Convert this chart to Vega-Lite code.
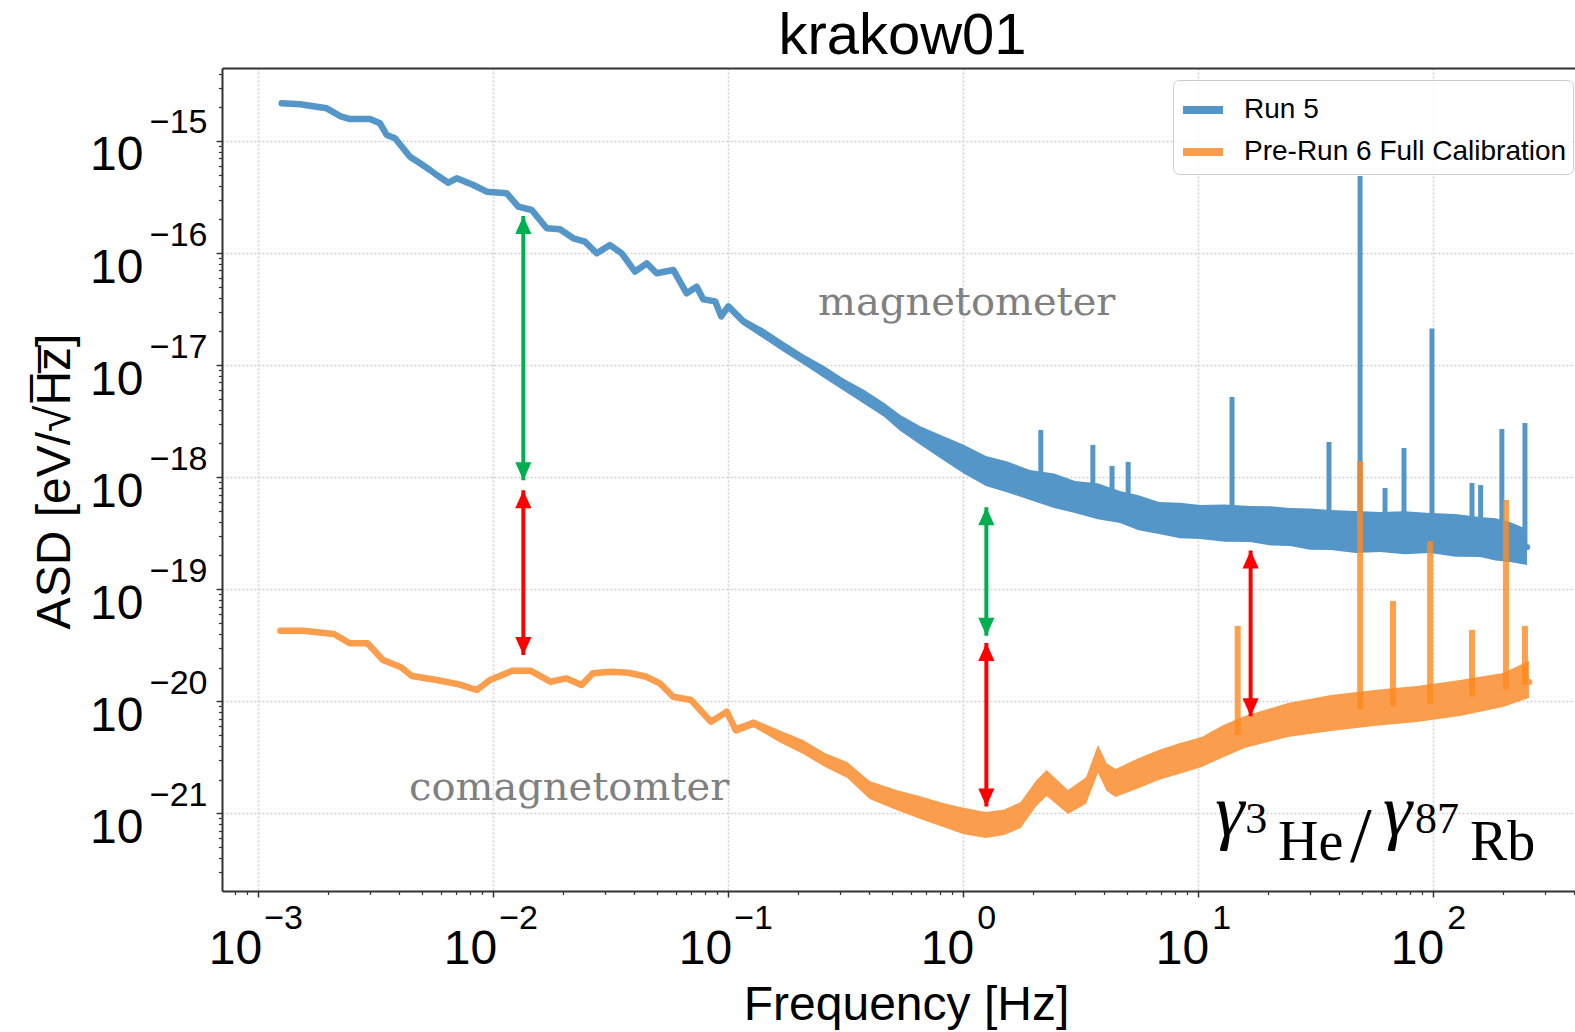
{
  "$schema": "https://vega.github.io/schema/vega-lite/v6.json",
  "width": 1353,
  "height": 823,
  "autosize": {"type": "none"},
  "padding": {"left": 222, "top": 68, "right": 0, "bottom": 141},
  "background": "white",
  "datasets": {
    "curves": [
      {"s": "Run 5", "f": 0.001265, "mid": 2.170e-15},
      {"s": "Run 5", "f": 0.001514, "mid": 2.126e-15},
      {"s": "Run 5", "f": 0.001966, "mid": 1.957e-15},
      {"s": "Run 5", "f": 0.002240, "mid": 1.671e-15},
      {"s": "Run 5", "f": 0.002470, "mid": 1.571e-15},
      {"s": "Run 5", "f": 0.003005, "mid": 1.571e-15},
      {"s": "Run 5", "f": 0.003314, "mid": 1.439e-15},
      {"s": "Run 5", "f": 0.003539, "mid": 1.131e-15},
      {"s": "Run 5", "f": 0.003840, "mid": 1.057e-15},
      {"s": "Run 5", "f": 0.004446, "mid": 7.244e-16},
      {"s": "Run 5", "f": 0.004905, "mid": 6.324e-16},
      {"s": "Run 5", "f": 0.005408, "mid": 5.510e-16},
      {"s": "Run 5", "f": 0.005778, "mid": 4.972e-16},
      {"s": "Run 5", "f": 0.006474, "mid": 4.244e-16},
      {"s": "Run 5", "f": 0.007026, "mid": 4.646e-16},
      {"s": "Run 5", "f": 0.008270, "mid": 4.048e-16},
      {"s": "Run 5", "f": 0.009430, "mid": 3.527e-16},
      {"s": "Run 5", "f": 0.01147, "mid": 3.413e-16},
      {"s": "Run 5", "f": 0.01285, "mid": 2.593e-16},
      {"s": "Run 5", "f": 0.01466, "mid": 2.422e-16},
      {"s": "Run 5", "f": 0.01698, "mid": 1.663e-16},
      {"s": "Run 5", "f": 0.01933, "mid": 1.629e-16},
      {"s": "Run 5", "f": 0.02203, "mid": 1.354e-16},
      {"s": "Run 5", "f": 0.02471, "mid": 1.263e-16},
      {"s": "Run 5", "f": 0.02771, "mid": 9.95e-17},
      {"s": "Run 5", "f": 0.03155, "mid": 1.179e-16},
      {"s": "Run 5", "f": 0.03539, "mid": 9.95e-17},
      {"s": "Run 5", "f": 0.04031, "mid": 6.818e-17},
      {"s": "Run 5", "f": 0.04521, "mid": 8.100e-17},
      {"s": "Run 5", "f": 0.04987, "mid": 6.598e-17},
      {"s": "Run 5", "f": 0.05867, "mid": 7.060e-17},
      {"s": "Run 5", "f": 0.06690, "mid": 4.373e-17},
      {"s": "Run 5", "f": 0.07380, "mid": 5.008e-17},
      {"s": "Run 5", "f": 0.07866, "mid": 3.866e-17, "lo": 3.72e-17, "hi": 4.02e-17},
      {"s": "Run 5", "f": 0.08847, "mid": 3.703e-17, "lo": 3.48e-17, "hi": 3.94e-17},
      {"s": "Run 5", "f": 0.09382, "mid": 2.720e-17, "lo": 2.556e-17, "hi": 2.894e-17},
      {"s": "Run 5", "f": 0.1006, "mid": 3.342e-17, "lo": 3.141e-17, "hi": 3.556e-17},
      {"s": "Run 5", "f": 0.1165, "mid": 2.455e-17, "lo": 2.273e-17, "hi": 2.651e-17},
      {"s": "Run 5", "f": 0.1419, "mid": 1.914e-17, "lo": 1.727e-17, "hi": 2.121e-17},
      {"s": "Run 5", "f": 0.1727, "mid": 1.462e-17, "lo": 1.319e-17, "hi": 1.620e-17},
      {"s": "Run 5", "f": 0.2104, "mid": 1.120e-17, "lo": 1.011e-17, "hi": 1.241e-17},
      {"s": "Run 5", "f": 0.2562, "mid": 8.731e-18, "lo": 7.727e-18, "hi": 9.866e-18},
      {"s": "Run 5", "f": 0.3119, "mid": 6.686e-18, "lo": 5.917e-18, "hi": 7.555e-18},
      {"s": "Run 5", "f": 0.3799, "mid": 5.213e-18, "lo": 4.513e-18, "hi": 6.021e-18},
      {"s": "Run 5", "f": 0.4625, "mid": 3.991e-18, "lo": 3.455e-18, "hi": 4.610e-18},
      {"s": "Run 5", "f": 0.5411, "mid": 3.043e-18, "lo": 2.600e-18, "hi": 3.600e-18},
      {"s": "Run 5", "f": 0.6600, "mid": 2.350e-18, "lo": 1.950e-18, "hi": 2.850e-18},
      {"s": "Run 5", "f": 0.8245, "mid": 1.820e-18, "lo": 1.422e-18, "hi": 2.330e-18},
      {"s": "Run 5", "f": 1.010, "mid": 1.420e-18, "lo": 1.080e-18, "hi": 1.950e-18},
      {"s": "Run 5", "f": 1.256, "mid": 1.134e-18, "lo": 8.332e-19, "hi": 1.543e-18},
      {"s": "Run 5", "f": 1.550, "mid": 9.800e-19, "lo": 7.300e-19, "hi": 1.380e-18},
      {"s": "Run 5", "f": 1.933, "mid": 8.511e-19, "lo": 6.253e-19, "hi": 1.158e-18},
      {"s": "Run 5", "f": 2.450, "mid": 7.500e-19, "lo": 5.300e-19, "hi": 1.080e-18},
      {"s": "Run 5", "f": 3.006, "mid": 6.651e-19, "lo": 4.788e-19, "hi": 9.238e-19},
      {"s": "Run 5", "f": 3.750, "mid": 6.000e-19, "lo": 4.200e-19, "hi": 8.800e-19},
      {"s": "Run 5", "f": 4.670, "mid": 5.416e-19, "lo": 3.899e-19, "hi": 7.523e-19},
      {"s": "Run 5", "f": 5.600, "mid": 4.800e-19, "lo": 3.350e-19, "hi": 6.900e-19},
      {"s": "Run 5", "f": 6.844, "mid": 4.318e-19, "lo": 3.109e-19, "hi": 5.998e-19},
      {"s": "Run 5", "f": 8.400, "mid": 4.100e-19, "lo": 2.850e-19, "hi": 5.900e-19},
      {"s": "Run 5", "f": 10.23, "mid": 3.978e-19, "lo": 2.805e-19, "hi": 5.641e-19},
      {"s": "Run 5", "f": 13.00, "mid": 3.900e-19, "lo": 2.650e-19, "hi": 5.700e-19},
      {"s": "Run 5", "f": 16.70, "mid": 3.818e-19, "lo": 2.639e-19, "hi": 5.525e-19},
      {"s": "Run 5", "f": 20.50, "mid": 3.700e-19, "lo": 2.450e-19, "hi": 5.500e-19},
      {"s": "Run 5", "f": 24.71, "mid": 3.590e-19, "lo": 2.431e-19, "hi": 5.302e-19},
      {"s": "Run 5", "f": 30.00, "mid": 3.480e-19, "lo": 2.250e-19, "hi": 5.250e-19},
      {"s": "Run 5", "f": 36.92, "mid": 3.376e-19, "lo": 2.239e-19, "hi": 5.091e-19},
      {"s": "Run 5", "f": 47.00, "mid": 3.300e-19, "lo": 2.100e-19, "hi": 5.000e-19},
      {"s": "Run 5", "f": 59.67, "mid": 3.240e-19, "lo": 2.149e-19, "hi": 4.886e-19},
      {"s": "Run 5", "f": 76.00, "mid": 3.200e-19, "lo": 2.050e-19, "hi": 4.950e-19},
      {"s": "Run 5", "f": 97.39, "mid": 3.174e-19, "lo": 2.105e-19, "hi": 4.786e-19},
      {"s": "Run 5", "f": 125.0, "mid": 3.050e-19, "lo": 1.950e-19, "hi": 4.700e-19},
      {"s": "Run 5", "f": 158.9, "mid": 2.922e-19, "lo": 1.938e-19, "hi": 4.406e-19},
      {"s": "Run 5", "f": 185.0, "mid": 2.780e-19, "lo": 1.800e-19, "hi": 4.300e-19},
      {"s": "Run 5", "f": 213.3, "mid": 2.637e-19, "lo": 1.749e-19, "hi": 3.977e-19},
      {"s": "Run 5", "f": 251.9, "mid": 2.380e-19, "lo": 1.645e-19, "hi": 3.444e-19},
      {"s": "Pre-Run 6 Full Calibration", "f": 0.001249, "mid": 4.262e-20},
      {"s": "Pre-Run 6 Full Calibration", "f": 0.001554, "mid": 4.262e-20},
      {"s": "Pre-Run 6 Full Calibration", "f": 0.002112, "mid": 3.983e-20},
      {"s": "Pre-Run 6 Full Calibration", "f": 0.002461, "mid": 3.291e-20},
      {"s": "Pre-Run 6 Full Calibration", "f": 0.002929, "mid": 3.291e-20},
      {"s": "Pre-Run 6 Full Calibration", "f": 0.003413, "mid": 2.334e-20},
      {"s": "Pre-Run 6 Full Calibration", "f": 0.004072, "mid": 2.009e-20},
      {"s": "Pre-Run 6 Full Calibration", "f": 0.004534, "mid": 1.680e-20},
      {"s": "Pre-Run 6 Full Calibration", "f": 0.005772, "mid": 1.547e-20},
      {"s": "Pre-Run 6 Full Calibration", "f": 0.007187, "mid": 1.416e-20},
      {"s": "Pre-Run 6 Full Calibration", "f": 0.008557, "mid": 1.260e-20},
      {"s": "Pre-Run 6 Full Calibration", "f": 0.009739, "mid": 1.547e-20},
      {"s": "Pre-Run 6 Full Calibration", "f": 0.01214, "mid": 1.874e-20},
      {"s": "Pre-Run 6 Full Calibration", "f": 0.01447, "mid": 1.874e-20},
      {"s": "Pre-Run 6 Full Calibration", "f": 0.01760, "mid": 1.494e-20},
      {"s": "Pre-Run 6 Full Calibration", "f": 0.02051, "mid": 1.602e-20},
      {"s": "Pre-Run 6 Full Calibration", "f": 0.02391, "mid": 1.396e-20},
      {"s": "Pre-Run 6 Full Calibration", "f": 0.02669, "mid": 1.776e-20},
      {"s": "Pre-Run 6 Full Calibration", "f": 0.03177, "mid": 1.835e-20},
      {"s": "Pre-Run 6 Full Calibration", "f": 0.03787, "mid": 1.798e-20},
      {"s": "Pre-Run 6 Full Calibration", "f": 0.04508, "mid": 1.656e-20},
      {"s": "Pre-Run 6 Full Calibration", "f": 0.05140, "mid": 1.446e-20},
      {"s": "Pre-Run 6 Full Calibration", "f": 0.05862, "mid": 1.098e-20},
      {"s": "Pre-Run 6 Full Calibration", "f": 0.06980, "mid": 1.026e-20, "lo": 9.643e-21, "hi": 1.092e-20},
      {"s": "Pre-Run 6 Full Calibration", "f": 0.08489, "mid": 6.571e-21, "lo": 6.176e-21, "hi": 6.992e-21},
      {"s": "Pre-Run 6 Full Calibration", "f": 0.09912, "mid": 8.067e-21, "lo": 7.582e-21, "hi": 8.583e-21},
      {"s": "Pre-Run 6 Full Calibration", "f": 0.1081, "mid": 5.538e-21, "lo": 5.099e-21, "hi": 6.014e-21},
      {"s": "Pre-Run 6 Full Calibration", "f": 0.1289, "mid": 6.358e-21, "lo": 5.855e-21, "hi": 6.905e-21},
      {"s": "Pre-Run 6 Full Calibration", "f": 0.1676, "mid": 4.827e-21, "lo": 4.268e-21, "hi": 5.459e-21},
      {"s": "Pre-Run 6 Full Calibration", "f": 0.2085, "mid": 3.930e-21, "lo": 3.403e-21, "hi": 4.539e-21},
      {"s": "Pre-Run 6 Full Calibration", "f": 0.2594, "mid": 2.990e-21, "lo": 2.589e-21, "hi": 3.453e-21},
      {"s": "Pre-Run 6 Full Calibration", "f": 0.3228, "mid": 2.434e-21, "lo": 2.064e-21, "hi": 2.870e-21},
      {"s": "Pre-Run 6 Full Calibration", "f": 0.4016, "mid": 1.614e-21, "lo": 1.342e-21, "hi": 1.942e-21},
      {"s": "Pre-Run 6 Full Calibration", "f": 0.5222, "mid": 1.314e-21, "lo": 1.070e-21, "hi": 1.614e-21},
      {"s": "Pre-Run 6 Full Calibration", "f": 0.6600, "mid": 1.120e-21, "lo": 8.900e-22, "hi": 1.420e-21},
      {"s": "Pre-Run 6 Full Calibration", "f": 0.8245, "mid": 9.656e-22, "lo": 7.544e-22, "hi": 1.236e-21},
      {"s": "Pre-Run 6 Full Calibration", "f": 1.010, "mid": 8.600e-22, "lo": 6.500e-22, "hi": 1.120e-21},
      {"s": "Pre-Run 6 Full Calibration", "f": 1.256, "mid": 7.862e-22, "lo": 6.020e-22, "hi": 1.027e-21},
      {"s": "Pre-Run 6 Full Calibration", "f": 1.500, "mid": 8.300e-22, "lo": 6.400e-22, "hi": 1.080e-21},
      {"s": "Pre-Run 6 Full Calibration", "f": 1.765, "mid": 9.656e-22, "lo": 7.394e-22, "hi": 1.261e-21},
      {"s": "Pre-Run 6 Full Calibration", "f": 2.050, "mid": 1.500e-21, "lo": 1.150e-21, "hi": 1.950e-21},
      {"s": "Pre-Run 6 Full Calibration", "f": 2.275, "mid": 1.865e-21, "lo": 1.428e-21, "hi": 2.436e-21},
      {"s": "Pre-Run 6 Full Calibration", "f": 2.806, "mid": 1.261e-21, "lo": 9.852e-22, "hi": 1.614e-21},
      {"s": "Pre-Run 6 Full Calibration", "f": 3.350, "mid": 1.600e-21, "lo": 1.220e-21, "hi": 2.100e-21},
      {"s": "Pre-Run 6 Full Calibration", "f": 3.765, "mid": 3.052e-21, "lo": 2.288e-21, "hi": 4.071e-21},
      {"s": "Pre-Run 6 Full Calibration", "f": 4.100, "mid": 2.100e-21, "lo": 1.580e-21, "hi": 2.800e-21},
      {"s": "Pre-Run 6 Full Calibration", "f": 4.469, "mid": 1.865e-21, "lo": 1.398e-21, "hi": 2.488e-21},
      {"s": "Pre-Run 6 Full Calibration", "f": 5.500, "mid": 2.250e-21, "lo": 1.650e-21, "hi": 3.050e-21},
      {"s": "Pre-Run 6 Full Calibration", "f": 6.818, "mid": 2.698e-21, "lo": 1.982e-21, "hi": 3.672e-21},
      {"s": "Pre-Run 6 Full Calibration", "f": 8.400, "mid": 3.100e-21, "lo": 2.250e-21, "hi": 4.250e-21},
      {"s": "Pre-Run 6 Full Calibration", "f": 10.40, "mid": 3.525e-21, "lo": 2.590e-21, "hi": 4.798e-21},
      {"s": "Pre-Run 6 Full Calibration", "f": 12.80, "mid": 4.400e-21, "lo": 3.150e-21, "hi": 6.100e-21},
      {"s": "Pre-Run 6 Full Calibration", "f": 15.86, "mid": 5.316e-21, "lo": 3.827e-21, "hi": 7.384e-21},
      {"s": "Pre-Run 6 Full Calibration", "f": 24.23, "mid": 6.802e-21, "lo": 4.797e-21, "hi": 9.645e-21},
      {"s": "Pre-Run 6 Full Calibration", "f": 36.92, "mid": 7.854e-21, "lo": 5.428e-21, "hi": 1.136e-20},
      {"s": "Pre-Run 6 Full Calibration", "f": 56.26, "mid": 8.706e-21, "lo": 6.017e-21, "hi": 1.260e-20},
      {"s": "Pre-Run 6 Full Calibration", "f": 85.76, "mid": 9.452e-21, "lo": 6.532e-21, "hi": 1.368e-20},
      {"s": "Pre-Run 6 Full Calibration", "f": 130.7, "mid": 1.069e-20, "lo": 7.388e-21, "hi": 1.547e-20},
      {"s": "Pre-Run 6 Full Calibration", "f": 199.1, "mid": 1.260e-20, "lo": 8.886e-21, "hi": 1.787e-20},
      {"s": "Pre-Run 6 Full Calibration", "f": 256.9, "mid": 1.485e-20, "lo": 1.069e-20, "hi": 2.300e-20}
    ],
    "spikes": [
      {"s": "Run 5", "f": 2.15, "base": 8.0e-19, "top": 2.64e-18},
      {"s": "Run 5", "f": 3.58, "base": 6.0e-19, "top": 1.94e-18},
      {"s": "Run 5", "f": 4.32, "base": 5.6e-19, "top": 1.26e-18},
      {"s": "Run 5", "f": 5.06, "base": 5.2e-19, "top": 1.37e-18},
      {"s": "Run 5", "f": 14.0, "base": 3.9e-19, "top": 5.19e-18},
      {"s": "Run 5", "f": 36.2, "base": 3.4e-19, "top": 2.06e-18},
      {"s": "Run 5", "f": 49.1, "base": 3.3e-19, "top": 4.87e-16},
      {"s": "Run 5", "f": 62.7, "base": 3.2e-19, "top": 8.0e-19},
      {"s": "Run 5", "f": 75.5, "base": 3.2e-19, "top": 1.82e-18},
      {"s": "Run 5", "f": 99.3, "base": 3.2e-19, "top": 2.12e-17},
      {"s": "Run 5", "f": 147, "base": 2.9e-19, "top": 8.87e-19},
      {"s": "Run 5", "f": 160, "base": 2.9e-19, "top": 8.5e-19},
      {"s": "Run 5", "f": 197, "base": 2.7e-19, "top": 2.69e-18},
      {"s": "Run 5", "f": 247, "base": 2.4e-19, "top": 3.04e-18},
      {"s": "Pre-Run 6 Full Calibration", "f": 14.8, "base": 5.0e-21, "top": 4.70e-20},
      {"s": "Pre-Run 6 Full Calibration", "f": 49.1, "base": 8.5e-21, "top": 1.39e-18},
      {"s": "Pre-Run 6 Full Calibration", "f": 67.8, "base": 9.0e-21, "top": 7.85e-20},
      {"s": "Pre-Run 6 Full Calibration", "f": 97.5, "base": 9.5e-21, "top": 2.69e-19},
      {"s": "Pre-Run 6 Full Calibration", "f": 147, "base": 1.1e-20, "top": 4.33e-20},
      {"s": "Pre-Run 6 Full Calibration", "f": 205, "base": 1.27e-20, "top": 6.25e-19},
      {"s": "Pre-Run 6 Full Calibration", "f": 247, "base": 1.4e-20, "top": 4.70e-20}
    ],
    "arrows": [
      {"c": "g", "f": 0.01350, "top": 2.142e-16, "bottom": 9.393e-19},
      {"c": "r", "f": 0.01350, "top": 7.650e-19, "bottom": 2.593e-20},
      {"c": "g", "f": 1.261, "top": 5.382e-19, "bottom": 3.837e-20},
      {"c": "r", "f": 1.261, "top": 3.317e-20, "bottom": 1.148e-21},
      {"c": "r", "f": 16.80, "top": 2.215e-19, "bottom": 7.355e-21}
    ],
    "notes": [
      {"t": "magnetometer", "f": 0.2423, "v": 2.799e-17},
      {"t": "comagnetomter", "f": 0.004403, "v": 1.314e-21}
    ],
    "gbig": [
      {"t": "γ", "f": 11.87, "v": 6.401e-22},
      {"t": "γ", "f": 61.44, "v": 6.401e-22}
    ],
    "gslash": [
      {"t": "/", "f": 44.47, "v": 3.753e-22}
    ],
    "gsup": [
      {"t": "3", "f": 15.93, "v": 6.670e-22},
      {"t": "87", "f": 84.09, "v": 6.670e-22}
    ],
    "gsub": [
      {"t": "He", "f": 21.96, "v": 3.831e-22},
      {"t": "Rb", "f": 144.1, "v": 3.831e-22}
    ]
  },
  "resolve": {"axis": {"x": "independent", "y": "independent"}},
  "layer": [
    {
      "data": {"name": "curves"},
      "transform": [{"filter": "datum.s == 'Run 5' && isValid(datum.lo)"}],
      "mark": {"type": "area", "color": "#5596c8"},
      "encoding": {
        "x": {"field": "f", "type": "quantitative",
          "scale": {"type": "log", "domain": [0.0007047, 403.3], "nice": false, "zero": false},
          "axis": {"orient": "bottom", "values": [0.001, 0.01, 0.1, 1, 10, 100], "grid": true, "gridColor": "#cfcfcf", "gridDash": [2, 2], "gridWidth": 1.5, "ticks": true, "tickSize": 6, "tickWidth": 1.5, "tickColor": "#333333", "domain": true, "domainColor": "#333333", "domainWidth": 2, "labels": false, "title": null}},
        "y": {"field": "lo", "type": "quantitative",
          "scale": {"type": "log", "domain": [2.026e-22, 4.482e-15], "nice": false, "zero": false},
          "axis": {"orient": "left", "values": [1e-21, 1e-20, 1e-19, 1e-18, 1e-17, 1e-16, 1e-15], "grid": true, "gridColor": "#cfcfcf", "gridDash": [2, 2], "gridWidth": 1.5, "ticks": true, "tickSize": 6, "tickWidth": 1.5, "tickColor": "#333333", "domain": true, "domainColor": "#333333", "domainWidth": 2, "labels": false, "title": null}},
        "y2": {"field": "hi"}
      }
    },
    {
      "data": {"name": "curves"},
      "transform": [{"filter": "datum.s != 'Run 5' && isValid(datum.lo)"}],
      "mark": {"type": "area", "color": "#fa9d4c"},
      "encoding": {
        "x": {"field": "f", "type": "quantitative",
          "axis": {"orient": "bottom", "values": [0.0008, 0.0009, 0.002, 0.003, 0.004, 0.005, 0.006, 0.007, 0.008, 0.009, 0.02, 0.03, 0.04, 0.05, 0.06, 0.07, 0.08, 0.09, 0.2, 0.3, 0.4, 0.5, 0.6, 0.7, 0.8, 0.9, 2, 3, 4, 5, 6, 7, 8, 9, 20, 30, 40, 50, 60, 70, 80, 90, 200, 300, 400], "grid": false, "ticks": true, "tickSize": 3.5, "tickWidth": 1.2, "tickColor": "#333333", "domain": false, "labels": false, "title": null}},
        "y": {"field": "lo", "type": "quantitative",
          "axis": {"orient": "left", "values": [3e-22, 4e-22, 5e-22, 6e-22, 7e-22, 8e-22, 9e-22, 2e-21, 3e-21, 4e-21, 5e-21, 6e-21, 7e-21, 8e-21, 9e-21, 2e-20, 3e-20, 4e-20, 5e-20, 6e-20, 7e-20, 8e-20, 9e-20, 2e-19, 3e-19, 4e-19, 5e-19, 6e-19, 7e-19, 8e-19, 9e-19, 2e-18, 3e-18, 4e-18, 5e-18, 6e-18, 7e-18, 8e-18, 9e-18, 2e-17, 3e-17, 4e-17, 5e-17, 6e-17, 7e-17, 8e-17, 9e-17, 2e-16, 3e-16, 4e-16, 5e-16, 6e-16, 7e-16, 8e-16, 9e-16, 2e-15, 3e-15, 4e-15], "grid": false, "ticks": true, "tickSize": 3.5, "tickWidth": 1.2, "tickColor": "#333333", "domain": false, "labels": false, "title": null}},
        "y2": {"field": "hi"}
      }
    },
    {
      "data": {"name": "curves"},
      "mark": {"type": "line", "strokeWidth": 6.5, "strokeJoin": "round", "strokeCap": "round"},
      "encoding": {
        "x": {"field": "f", "type": "quantitative",
          "axis": {"orient": "bottom", "values": [0.001, 0.01, 0.1, 1, 10, 100], "labels": true, "labelExpr": "'10'", "labelFontSize": 48, "labelAlign": "right", "labelBaseline": "alphabetic", "labelPadding": 72, "ticks": false, "tickSize": 0, "domain": false, "grid": false,
            "labelOffset": {"condition": {"test": "datum.value < 1", "value": 4}, "value": 11},
            "title": "Frequency [Hz]", "titleFontSize": 48, "titleFontWeight": "normal", "titleX": 684, "titleY": 128, "titleBaseline": "alphabetic", "titleAlign": "center"}},
        "y": {"field": "mid", "type": "quantitative",
          "axis": {"orient": "left", "values": [1e-21, 1e-20, 1e-19, 1e-18, 1e-17, 1e-16, 1e-15], "labels": true, "labelExpr": "'10'", "labelFontSize": 48, "labelAlign": "right", "labelBaseline": "alphabetic", "labelPadding": 79, "labelOffset": 29, "ticks": false, "tickSize": 0, "domain": false, "grid": false,
            "title": "ASD [eV/\u221aH\u0305z\u0305]", "titleFontSize": 48, "titleFontWeight": "normal", "titleAngle": -90, "titleX": -153, "titleY": 413, "titleBaseline": "alphabetic", "titleAlign": "center"}},
        "color": {"field": "s", "type": "nominal",
          "scale": {"domain": ["Run 5", "Pre-Run 6 Full Calibration"], "range": ["#5596c8", "#fa9d4c"]},
          "legend": {"orient": "none", "legendX": 951, "legendY": 12, "title": null, "symbolType": "stroke", "symbolSize": 1600, "symbolStrokeWidth": 8, "labelFontSize": 28, "labelFont": "Liberation Sans", "labelColor": "black", "labelOffset": 17, "labelLimit": 600, "padding": 6, "rowPadding": 2, "strokeColor": "#cccccc", "fillColor": "rgba(255,255,255,0.85)", "cornerRadius": 6}}
      }
    },
    {
      "data": {"name": "spikes"},
      "transform": [{"filter": "datum.s == 'Run 5'"}],
      "mark": {"type": "rule", "color": "#5596c8", "strokeWidth": 5},
      "encoding": {
        "x": {"field": "f", "type": "quantitative",
          "axis": {"orient": "bottom", "values": [0.001, 0.01, 0.1, 1, 10, 100], "labels": true, "labelExpr": "format(round(log(datum.value)/LN10), 'd')", "labelFontSize": 34, "labelAlign": "left", "labelBaseline": "alphabetic", "labelPadding": 37, "ticks": false, "tickSize": 0, "domain": false, "grid": false,
            "labelOffset": {"condition": {"test": "datum.value < 1", "value": 6}, "value": 14}, "title": null}},
        "y": {"field": "base", "type": "quantitative",
          "axis": {"orient": "left", "values": [1e-21, 1e-20, 1e-19, 1e-18, 1e-17, 1e-16, 1e-15], "labels": true, "labelExpr": "format(round(log(datum.value)/LN10), 'd')", "labelFontSize": 34, "labelAlign": "right", "labelBaseline": "alphabetic", "labelPadding": 15, "labelOffset": -8, "ticks": false, "tickSize": 0, "domain": false, "grid": false, "title": null}},
        "y2": {"field": "top"}
      }
    },
    {
      "data": {"name": "spikes"},
      "transform": [{"filter": "datum.s != 'Run 5'"}],
      "mark": {"type": "rule", "color": "#ff8a1f", "opacity": 0.8, "strokeWidth": 6},
      "encoding": {
        "x": {"field": "f", "type": "quantitative",
          "axis": {"orient": "top", "domain": true, "domainColor": "#333333", "domainWidth": 2, "ticks": false, "labels": false, "grid": false,
            "title": "krakow01", "titleFont": "Liberation Sans", "titleFontSize": 58, "titleFontWeight": "normal", "titleColor": "black", "titleX": 680, "titleY": -15, "titleBaseline": "alphabetic", "titleAlign": "center", "titleAngle": 0}},
        "y": {"field": "base", "type": "quantitative", "axis": null},
        "y2": {"field": "top"}
      }
    },
    {
      "data": {"name": "arrows"},
      "mark": {"type": "rule", "strokeWidth": 4},
      "encoding": {
        "x": {"field": "f", "type": "quantitative", "axis": null},
        "y": {"field": "top", "type": "quantitative", "axis": null},
        "y2": {"field": "bottom"},
        "color": {"condition": {"test": "datum.c == 'g'", "value": "#00b050"}, "value": "#ff0000"}
      }
    },
    {
      "data": {"name": "arrows"},
      "mark": {"type": "point", "shape": "M0,0L-0.9,2L0.9,2Z", "filled": true, "size": 324, "opacity": 1},
      "encoding": {
        "x": {"field": "f", "type": "quantitative", "axis": null},
        "y": {"field": "top", "type": "quantitative", "axis": null},
        "color": {"condition": {"test": "datum.c == 'g'", "value": "#00b050"}, "value": "#ff0000"}
      }
    },
    {
      "data": {"name": "arrows"},
      "mark": {"type": "point", "shape": "M0,0L-0.9,-2L0.9,-2Z", "filled": true, "size": 324, "opacity": 1},
      "encoding": {
        "x": {"field": "f", "type": "quantitative", "axis": null},
        "y": {"field": "bottom", "type": "quantitative", "axis": null},
        "color": {"condition": {"test": "datum.c == 'g'", "value": "#00b050"}, "value": "#ff0000"}
      }
    },
    {
      "data": {"name": "notes"},
      "mark": {"type": "text", "align": "left", "baseline": "alphabetic", "font": "DejaVu Serif", "fontSize": 40, "color": "#808080"},
      "encoding": {
        "x": {"field": "f", "type": "quantitative", "axis": null},
        "y": {"field": "v", "type": "quantitative", "axis": null},
        "text": {"field": "t"}
      }
    },
    {
      "data": {"name": "gbig"},
      "mark": {"type": "text", "align": "left", "baseline": "alphabetic", "font": "Liberation Serif", "fontStyle": "italic", "fontSize": 74, "color": "black"},
      "encoding": {
        "x": {"field": "f", "type": "quantitative", "axis": null},
        "y": {"field": "v", "type": "quantitative", "axis": null},
        "text": {"field": "t"}
      }
    },
    {
      "data": {"name": "gslash"},
      "mark": {"type": "text", "align": "left", "baseline": "alphabetic", "font": "Liberation Serif", "fontSize": 78, "color": "black"},
      "encoding": {
        "x": {"field": "f", "type": "quantitative", "axis": null},
        "y": {"field": "v", "type": "quantitative", "axis": null},
        "text": {"field": "t"}
      }
    },
    {
      "data": {"name": "gsup"},
      "mark": {"type": "text", "align": "left", "baseline": "alphabetic", "font": "Liberation Serif", "fontSize": 44, "color": "black"},
      "encoding": {
        "x": {"field": "f", "type": "quantitative", "axis": null},
        "y": {"field": "v", "type": "quantitative", "axis": null},
        "text": {"field": "t"}
      }
    },
    {
      "data": {"name": "gsub"},
      "mark": {"type": "text", "align": "left", "baseline": "alphabetic", "font": "Liberation Serif", "fontSize": 56, "color": "black"},
      "encoding": {
        "x": {"field": "f", "type": "quantitative", "axis": null},
        "y": {"field": "v", "type": "quantitative", "axis": null},
        "text": {"field": "t"}
      }
    }
  ],
  "config": {
    "view": {"stroke": null},
    "axis": {"labelFont": "Liberation Sans", "titleFont": "Liberation Sans", "labelColor": "black", "titleColor": "black", "labelFlush": false, "labelOverlap": false, "labelBound": false}
  }
}
